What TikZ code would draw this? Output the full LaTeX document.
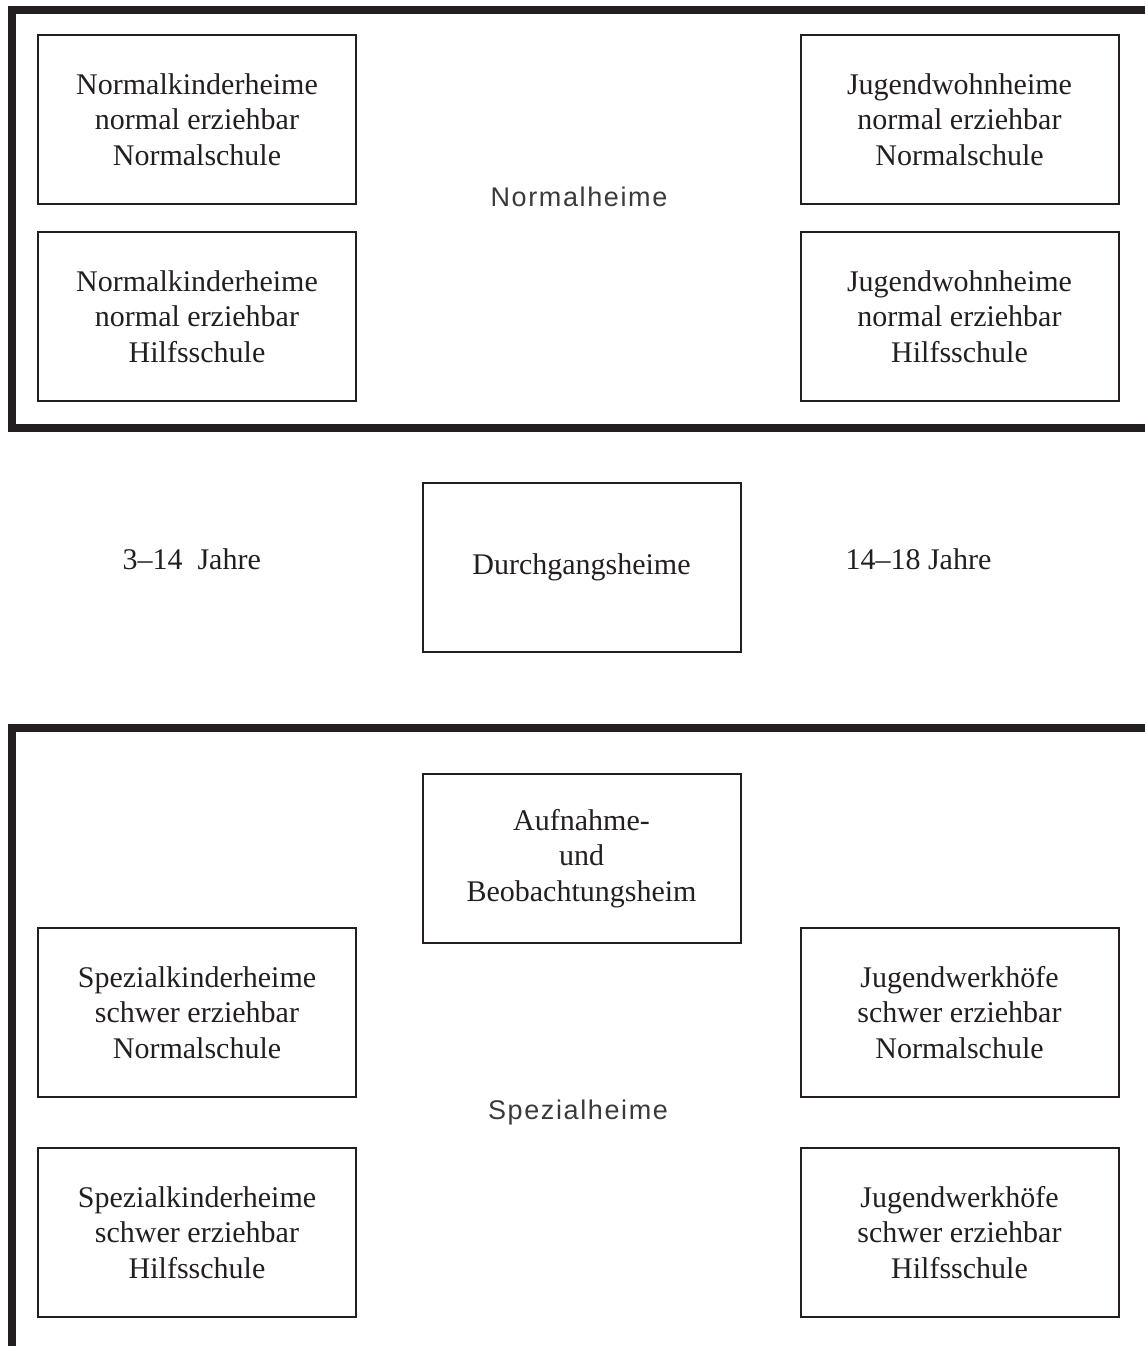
\documentclass[tikz,border=0pt]{standalone}
\usepackage{fontspec}
\setmainfont{Liberation Serif}
\newfontfamily\labelfont[LetterSpace=6]{Liberation Sans}
\definecolor{ink}{HTML}{231F20}
\definecolor{grayink}{HTML}{3A3A3A}
\begin{document}
\begin{tikzpicture}[x=1pt,y=-1pt,
  heimbox/.style={draw=ink, line width=2pt, minimum width=318pt, minimum height=169pt,
    inner sep=0pt, align=center, text=ink, font=\fontsize{30}{35.5}\selectfont},
  frame/.style={draw=ink, line width=8pt},
  grouplabel/.style={font=\labelfont\fontsize{27}{32}\selectfont, text=grayink},
  agelabel/.style={font=\fontsize{30}{34}\selectfont, text=ink, anchor=west}]
\useasboundingbox (0,0) rectangle (1145,1346);
% frames
\draw[frame] (1160,10) -- (12,10) -- (12,428) -- (1160,428);
\draw[frame] (1160,728) -- (12,728) -- (12,1360);
% Normalheime
\node[heimbox] (nk1) at (197,119.5) {Normalkinderheime\\normal erziehbar\\Normalschule};
\node[heimbox] (nk2) at (197,316.5) {Normalkinderheime\\normal erziehbar\\Hilfsschule};
\node[heimbox] (jw1) at (959.5,119.5) {Jugendwohnheime\\normal erziehbar\\Normalschule};
\node[heimbox] (jw2) at (959.5,316.5) {Jugendwohnheime\\normal erziehbar\\Hilfsschule};
\node[grouplabel] (normal) at (579,197) {Normalheime};
% middle
\node[heimbox] (dg) at (581.5,567.5) {Durchgangsheime};
\node[agelabel] (a1) at (119,559) {3–14\ \ Jahre};
\node[agelabel] (a2) at (842,559) {14–18 Jahre};
% Spezialheime
\node[heimbox] (ab) at (581.5,858.5) {Aufnahme-\\und\\Beobachtungsheim};
\node[heimbox] (sk1) at (197,1012.5) {Spezialkinderheime\\schwer erziehbar\\Normalschule};
\node[heimbox] (sk2) at (197,1232.5) {Spezialkinderheime\\schwer erziehbar\\Hilfsschule};
\node[heimbox] (jwh1) at (959.5,1012.5) {Jugendwerkhöfe\\schwer erziehbar\\Normalschule};
\node[heimbox] (jwh2) at (959.5,1232.5) {Jugendwerkhöfe\\schwer erziehbar\\Hilfsschule};
\node[grouplabel] (spezial) at (578,1113) {Spezialheime};
\end{tikzpicture}
\end{document}
